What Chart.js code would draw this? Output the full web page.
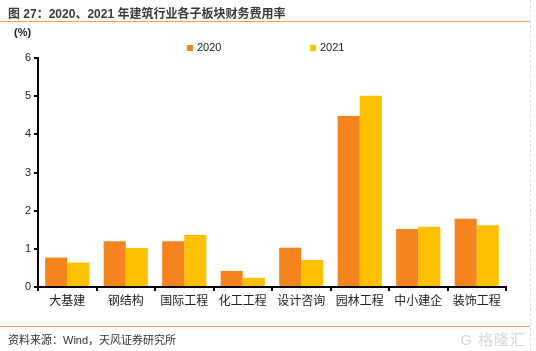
<!DOCTYPE html>
<html lang="zh">
<head>
  <meta charset="UTF-8" />
  <title>财务费用率</title>
  <script src="https://cdn.jsdelivr.net/npm/chart.js"></script>
  <style>
    body {
      margin: 0;
      background: #fff;
      font-family: 'Liberation Sans', 'Noto Sans CJK SC', sans-serif;
      color: #333;
    }
    .frame {
      position: relative;
      width: 536px;
      height: 351px;
      overflow: hidden;
    }
    .frame canvas {
      position: absolute;
      left: 0;
      top: 0;
    }
    .title {
      position: absolute;
      left: 8px;
      top: 4px;
      font-size: 12px;
      font-weight: bold;
      color: #3a3a3a;
    }
    .rule {
      position: absolute;
      left: 0;
      width: 530px;
      height: 0;
      border-top: 1.5px solid #efa154;
    }
    .unit {
      position: absolute;
      left: 14px;
      top: 26px;
      font-size: 11px;
      font-weight: bold;
      color: #222;
    }
    .legend {
      position: absolute;
      top: 41px;
      font-size: 11px;
      color: #222;
    }
    .legend i {
      display: inline-block;
      width: 6px;
      height: 6px;
      margin-right: 4px;
      vertical-align: 0px;
    }
    .source {
      position: absolute;
      left: 8px;
      top: 331px;
      font-size: 11px;
      color: #333;
    }
    .mark {
      position: absolute;
      right: 10px;
      top: 328px;
      font-size: 15px;
      color: #d8d8d8;
      letter-spacing: 1px;
    }
    .side {
      position: absolute;
      left: 530px;
      top: 0;
      height: 351px;
      border-left: 1px dashed #ddd;
    }
  </style>
</head>
<body>
<div class="frame">
  <canvas id="chart" width="536" height="351"></canvas>
  <div class="title">图 27：2020、2021 年建筑行业各子板块财务费用率</div>
  <div class="rule" style="top:21px"></div>
  <div class="unit">(%)</div>
  <div class="legend" style="left:187px"><i style="background:#f5841f"></i>2020</div>
  <div class="legend" style="left:310px"><i style="background:#ffc000"></i>2021</div>
  <div class="rule" style="top:326px"></div>
  <div class="source">资料来源：Wind，天风证券研究所</div>
  <div class="mark">G 格隆汇</div>
  <div class="side"></div>
</div>

<script>
const categories = ['大基建', '钢结构', '国际工程', '化工工程', '设计咨询', '园林工程', '中小建企', '装饰工程'];
const values2020 = [0.77, 1.20, 1.20, 0.42, 1.03, 4.48, 1.52, 1.79];
const values2021 = [0.64, 1.02, 1.36, 0.24, 0.71, 5.01, 1.58, 1.62];
const yTicks = [0, 1, 2, 3, 4, 5, 6];

const fontFamily = "'Liberation Sans', 'Noto Sans CJK SC', sans-serif";

new Chart(document.getElementById('chart'), {
  type: 'bar',
  data: {
    labels: categories,
    datasets: [
      { label: '2020', data: values2020, backgroundColor: '#f5841f' },
      { label: '2021', data: values2021, backgroundColor: '#ffc000' }
    ]
  },
  options: {
    responsive: false,
    animation: false,
    layout: { padding: { left: 0, right: 30, top: 58, bottom: 34 } },
    plugins: {
      legend: { display: false },
      tooltip: { enabled: false }
    },
    datasets: {
      bar: { categoryPercentage: 0.755, barPercentage: 1 }
    },
    scales: {
      x: {
        afterFit: s => { s.height = 30; },
        grid: { drawOnChartArea: false, drawTicks: true, tickLength: 4, color: '#000', lineWidth: 2 },
        border: { display: true, color: '#000', width: 2 },
        ticks: { color: '#222', padding: 3, font: { family: fontFamily, size: 12 } }
      },
      y: {
        min: 0,
        max: 6,
        afterFit: s => { s.width = 38; },
        afterBuildTicks: s => { s.ticks = yTicks.map(v => ({ value: v })); },
        grid: { drawOnChartArea: false, drawTicks: true, tickLength: 4, color: '#000', lineWidth: 2 },
        border: { display: true, color: '#000', width: 2 },
        ticks: { color: '#222', padding: 3, font: { family: fontFamily, size: 11 } }
      }
    }
  }
});
</script>
</body>
</html>
